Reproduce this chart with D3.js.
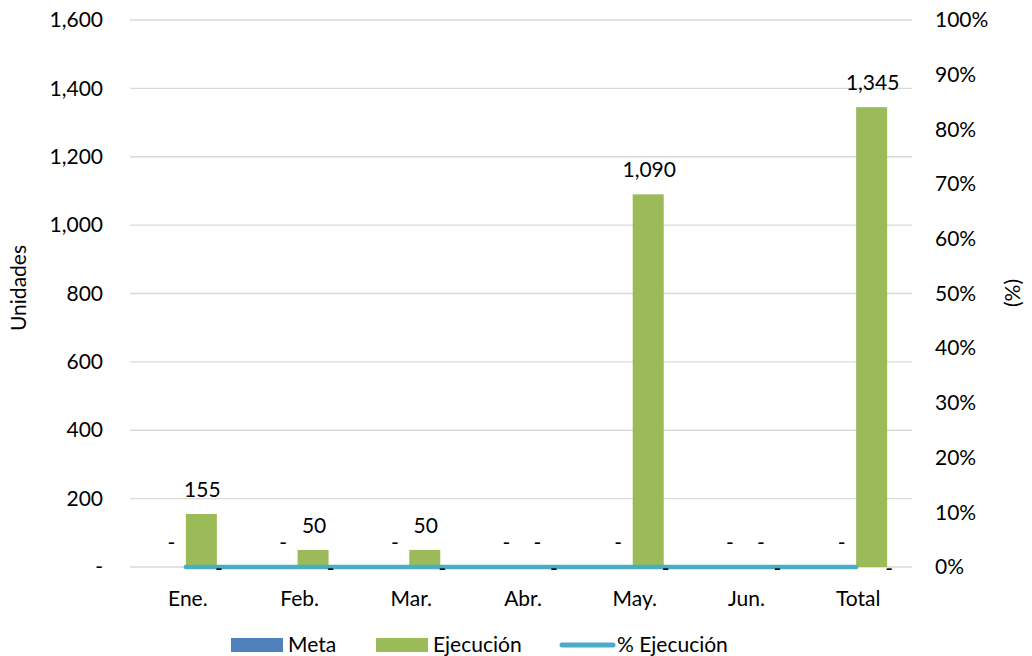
<!DOCTYPE html>
<html>
<head>
<meta charset="utf-8">
<script src="https://cdn.jsdelivr.net/npm/d3@7"></script>
<style>
  body { margin: 0; background: #fff; }
  svg text { font-family: Lato, "Open Sans", sans-serif; fill: #000; }
</style>
</head>
<body>
<svg id="chart"></svg>
<script>
const categories = ["Ene.", "Feb.", "Mar.", "Abr.", "May.", "Jun.", "Total"];
const meta = [0, 0, 0, 0, 0, 0, 0];
const ejecucion = [155, 50, 50, 0, 1090, 0, 1345];
const pctEjecucion = [0, 0, 0, 0, 0, 0, 0];
const leftTicks = [0, 200, 400, 600, 800, 1000, 1200, 1400, 1600];
const rightTicks = [0, 0.1, 0.2, 0.3, 0.4, 0.5, 0.6, 0.7, 0.8, 0.9, 1];

const W = 1032, H = 656;
const FS = "21px";
const margin = {top: 20, right: 120, bottom: 89, left: 130},
      width = W - margin.left - margin.right,
      height = H - margin.top - margin.bottom;

const svg = d3.select("#chart").attr("width", W).attr("height", H);
const g = svg.append("g").attr("transform", `translate(${margin.left},${margin.top})`);

const x = d3.scaleBand().domain(categories).range([0, width])
    .paddingInner(0.445).paddingOuter(0.2225);
const x1 = d3.scaleBand().domain(["Meta", "Ejecución"]).range([0, x.bandwidth()]);
const y = d3.scaleLinear().domain([0, 1600]).range([height, 0]);
const y2 = d3.scaleLinear().domain([0, 1]).range([height, 0]);

const numFmt = v => v === 0 ? "-" : d3.format(",")(v);

// gridlines
g.append("g").selectAll("line").data(leftTicks).enter().append("line")
    .attr("x1", 0).attr("x2", width)
    .attr("y1", d => y(d)).attr("y2", d => y(d))
    .attr("stroke", "#d9d9d9").attr("stroke-width", 1.3);

// left axis
const yAxis = g.append("g").call(d3.axisLeft(y).tickValues(leftTicks).tickFormat(numFmt).tickSize(0).tickPadding(27));
yAxis.select(".domain").remove();
yAxis.selectAll("text").style("font-size", FS);

// right axis
const yAxis2 = g.append("g").attr("transform", `translate(${width},0)`)
    .call(d3.axisRight(y2).tickValues(rightTicks).tickFormat(d3.format(".0%")).tickSize(0).tickPadding(23));
yAxis2.select(".domain").remove();
yAxis2.selectAll("text").style("font-size", FS);

// x axis labels
const xAxis = g.append("g").attr("transform", `translate(0,${height})`)
    .call(d3.axisBottom(x).tickSize(0).tickPadding(24));
xAxis.select(".domain").remove();
xAxis.selectAll("text").style("font-size", FS).attr("dx", "2");

// bars
const series = [
  {key: "Meta", values: meta, color: "#4f81bd"},
  {key: "Ejecución", values: ejecucion, color: "#9bbb59"}
];
series.forEach(s => {
  g.append("g").selectAll("rect").data(categories).enter().append("rect")
      .attr("x", (c) => x(c) + x1(s.key))
      .attr("y", (c, i) => y(s.values[i]))
      .attr("width", x1.bandwidth())
      .attr("height", (c, i) => height - y(s.values[i]))
      .attr("fill", s.color);
  g.append("g").selectAll("text").data(categories).enter().append("text")
      .attr("x", c => x(c) + x1(s.key) + x1.bandwidth() / 2 + 1)
      .attr("y", (c, i) => y(s.values[i]) - 17)
      .attr("text-anchor", "middle")
      .style("font-size", FS)
      .text((c, i) => numFmt(s.values[i]));
});

// % line
const line = d3.line()
    .x((d, i) => x(categories[i]) + x.bandwidth() / 2)
    .y(d => y2(d));
g.append("path").datum(pctEjecucion)
    .attr("d", line)
    .attr("fill", "none")
    .attr("stroke", "#4bacc6")
    .attr("stroke-width", 4.5)
    .attr("stroke-linecap", "round");
g.append("g").selectAll("text").data(categories).enter().append("text")
    .attr("x", c => x(c) + x.bandwidth() / 2 + 33)
    .attr("y", (c, i) => y2(pctEjecucion[i]) + 9)
    .attr("text-anchor", "middle")
    .style("font-size", FS)
    .text((c, i) => pctEjecucion[i] === 0 ? "-" : d3.format(".0%")(pctEjecucion[i]));

// axis titles
svg.append("text")
    .attr("transform", "translate(26,288) rotate(-90)")
    .attr("text-anchor", "middle")
    .style("font-size", FS)
    .text("Unidades");
svg.append("text")
    .attr("transform", "translate(1020,293) rotate(-90)")
    .attr("text-anchor", "middle")
    .style("font-size", FS)
    .text("(%)");

// legend
const legend = svg.append("g").attr("transform", "translate(231,645)");
const legendItems = [
  {label: "Meta", color: "#4f81bd", type: "rect", x: 0},
  {label: "Ejecución", color: "#9bbb59", type: "rect", x: 145},
  {label: "% Ejecución", color: "#4bacc6", type: "line", x: 329}
];
legendItems.forEach(d => {
  if (d.type === "rect") {
    legend.append("rect").attr("x", d.x).attr("y", -7).attr("width", 52).attr("height", 14).attr("fill", d.color);
    legend.append("text").attr("x", d.x + 57).attr("y", 7).style("font-size", FS).text(d.label);
  } else {
    legend.append("line").attr("x1", d.x + 2).attr("x2", d.x + 53).attr("y1", 0).attr("y2", 0)
        .attr("stroke", d.color).attr("stroke-width", 5).attr("stroke-linecap", "round");
    legend.append("text").attr("x", d.x + 57).attr("y", 7).style("font-size", FS).text(d.label);
  }
});
</script>
</body>
</html>
